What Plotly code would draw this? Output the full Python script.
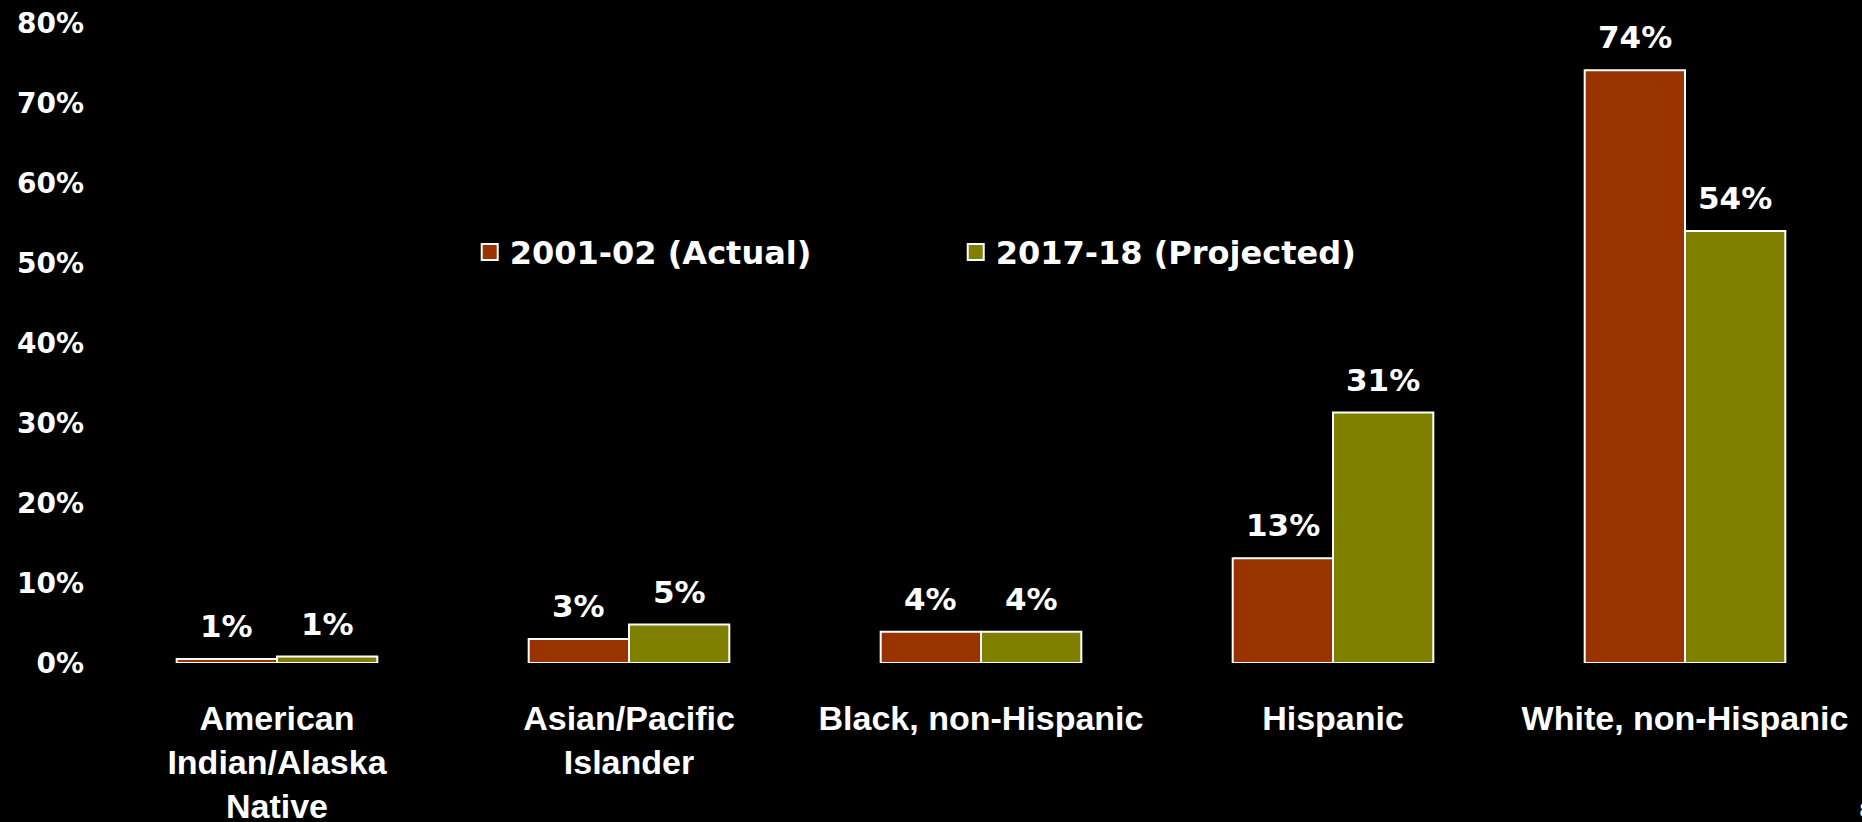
import plotly.graph_objects as go

# ---- data ----
categories = ["American<br>Indian/Alaska<br>Native", "Asian/Pacific<br>Islander",
              "Black, non-Hispanic", "Hispanic", "White, non-Hispanic"]
series_names = ["2001-02 (Actual)", "2017-18 (Projected)"]
actual_2001 = [0.5, 3.0, 3.9, 13.1, 74.1]
projected_2017 = [0.8, 4.8, 3.9, 31.3, 54.0]
labels_2001 = ["1%", "3%", "4%", "13%", "74%"]
labels_2017 = ["1%", "5%", "4%", "31%", "54%"]
series_colors = ["#993300", "#808000"]
y_ticks = [0, 10, 20, 30, 40, 50, 60, 70, 80]
y_ticktext = [f"{v}%" for v in y_ticks]

BARGAP = 0.43
bar_half = (1 - BARGAP) / 4  # offset of each bar's centre from category centre

BOLD = "DejaVu Sans"
CAT_FONT = "Liberation Sans"

fig = go.Figure()
series_values = [actual_2001, projected_2017]
series_labels = [labels_2001, labels_2017]

for name, vals, color in zip(series_names, series_values, series_colors):
    fig.add_trace(go.Bar(
        x=categories, y=vals, name=name, showlegend=False,
        marker=dict(color=color, line=dict(color="white", width=2)),
    ))
for name, color in zip(series_names, series_colors):
    fig.add_trace(go.Scatter(
        x=[None], y=[None], mode="markers", name=name,
        marker=dict(symbol="square", size=16, color=color,
                    line=dict(color="white", width=2)),
    ))

annotations = []
for s, (vals, labs) in enumerate(zip(series_values, series_labels)):
    off = -bar_half if s == 0 else bar_half
    for i, (v, lab) in enumerate(zip(vals, labs)):
        annotations.append(dict(
            x=i + off, y=v, xref="x", yref="y", text=lab, showarrow=False,
            yanchor="bottom", xanchor="center", yshift=13,
            font=dict(family=BOLD, size=31, color="white", weight="bold"),
        ))
annotations.append(dict(
    x=1, y=-0.23, xref="paper", yref="paper", text="8", showarrow=False,
    xanchor="left", yanchor="middle", xshift=-4,
    font=dict(family=BOLD, size=20, color="white"),
))

fig.update_layout(
    width=1862, height=822,
    paper_bgcolor="black", plot_bgcolor="black",
    margin=dict(l=101, r=1, t=23, b=159, pad=0),
    barmode="group", bargap=BARGAP, bargroupgap=0,
    showlegend=True,
    legend=dict(
        orientation="h", x=0.2095, y=0.642, xanchor="left", yanchor="middle",
        font=dict(family=BOLD, size=32, color="white", weight="bold"),
        bgcolor="rgba(0,0,0,0)", entrywidth=441, entrywidthmode="pixels",
        itemclick=False, itemdoubleclick=False,
    ),
    xaxis=dict(
        type="category", showgrid=False, zeroline=False, showline=False,
        ticks="", ticklabelstandoff=32, automargin=False,
        tickfont=dict(family=CAT_FONT, size=34, color="white", weight="bold"),
    ),
    yaxis=dict(
        range=[0, 80], tickvals=y_ticks, ticktext=y_ticktext,
        showgrid=False, zeroline=False, showline=False, ticks="",
        ticklabelstandoff=16, automargin=False,
        tickfont=dict(family=BOLD, size=28, color="white", weight="bold"),
    ),
    annotations=annotations,
)

fig.write_html(
    "out.html",
    config={"displayModeBar": False},
    post_script="document.body.style.margin='0';document.body.style.background='black';",
)
